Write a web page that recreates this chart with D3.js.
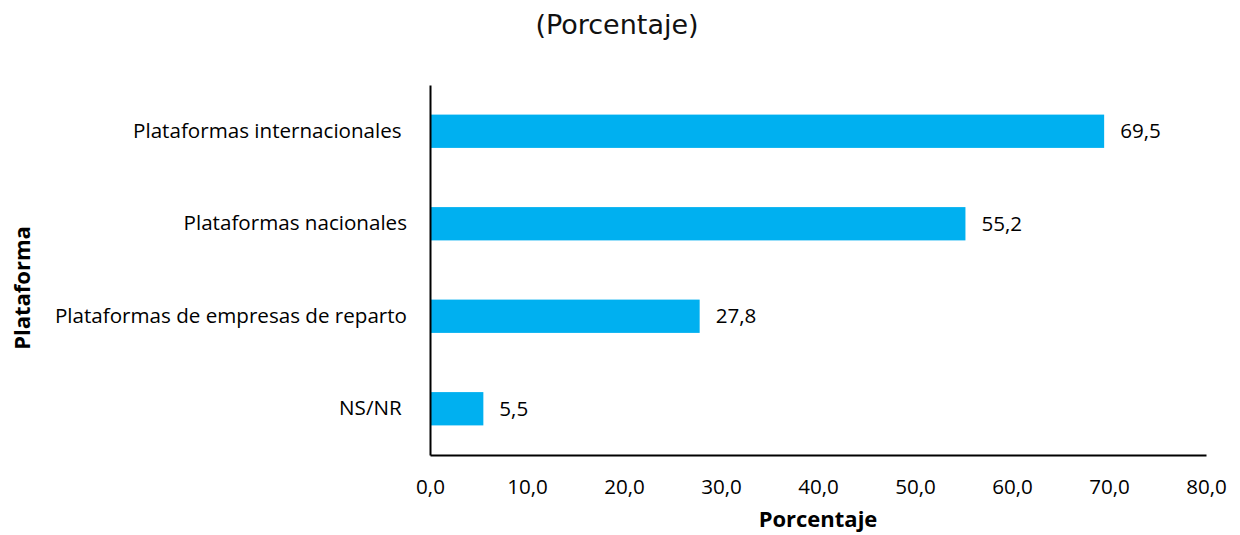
<!DOCTYPE html>
<html>
<head>
<meta charset="utf-8">
<script src="https://cdn.jsdelivr.net/npm/d3@7"></script>
<style>
  body { margin: 0; background: #fff; }
  svg { display: block; }
  .cat { white-space: pre; }
</style>
</head>
<body>
<div id="chart"></div>
<script>
// Chart data
const categories = ['Plataformas internacionales ', 'Plataformas nacionales', 'Plataformas de empresas de reparto', 'NS/NR '];
const values = [69.5, 55.2, 27.8, 5.5];
const xTicks = [0, 10, 20, 30, 40, 50, 60, 70, 80];

const width = 1240, height = 535;
const margin = { top: 85, right: 34, bottom: 80, left: 430 };
const labelFont = '"Open Sans", Lato, sans-serif';
const labelSize = '20.6px';

const svg = d3.select('#chart')
    .append('svg')
    .attr('width', width)
    .attr('height', height);

const x = d3.scaleLinear()
    .domain([0, 80])
    .range([margin.left, width - margin.right]);

const y = d3.scaleBand()
    .domain(categories)
    .range([margin.top, height - margin.bottom])
    .paddingInner(0.64)
    .paddingOuter(0.32);

const fmt = v => d3.format('.1f')(v).replace('.', ',');

// Title
svg.append('text')
    .attr('x', 617)
    .attr('y', 34)
    .attr('text-anchor', 'middle')
    .style('font-family', '"DejaVu Sans", Verdana, sans-serif')
    .style('font-size', '27px')
    .attr('fill', '#111')
    .text('(Porcentaje)');

// Bars
svg.append('g')
    .selectAll('rect')
    .data(values)
    .enter().append('rect')
    .attr('x', x(0))
    .attr('y', (d, i) => y(categories[i]))
    .attr('width', d => x(d) - x(0))
    .attr('height', y.bandwidth())
    .attr('fill', '#00B0F0');

// Value labels
svg.append('g')
    .selectAll('text')
    .data(values)
    .enter().append('text')
    .attr('x', d => x(d) + 16)
    .attr('y', (d, i) => y(categories[i]) + y.bandwidth() / 2)
    .attr('dy', '0.35em')
    .style('font-family', labelFont)
    .style('font-size', labelSize)
    .attr('fill', '#000')
    .text(d => fmt(d));

// X axis
const xAxis = d3.axisBottom(x)
    .tickValues(xTicks)
    .tickSize(0)
    .tickPadding(24)
    .tickFormat(fmt);

const gx = svg.append('g')
    .attr('transform', `translate(0,${height - margin.bottom})`)
    .call(xAxis);
gx.select('.domain').attr('stroke', '#000').attr('stroke-width', 2);
gx.selectAll('text')
    .style('font-family', labelFont)
    .style('font-size', labelSize)
    .attr('fill', '#000');

// Y axis
const yAxis = d3.axisLeft(y)
    .tickSize(0)
    .tickPadding(23);

const gy = svg.append('g')
    .attr('transform', `translate(${margin.left},0)`)
    .call(yAxis);
gy.select('.domain').attr('stroke', '#000').attr('stroke-width', 2);
gy.selectAll('text')
    .attr('class', 'cat')
    .style('font-family', labelFont)
    .style('font-size', labelSize)
    .attr('fill', '#000');

// Axis titles
svg.append('text')
    .attr('x', (x(0) + x(80)) / 2)
    .attr('y', 527)
    .attr('text-anchor', 'middle')
    .style('font-family', labelFont)
    .style('font-size', '22px')
    .style('font-weight', 'bold')
    .text('Porcentaje');

svg.append('text')
    .attr('transform', 'translate(30,288) rotate(-90)')
    .attr('text-anchor', 'middle')
    .style('font-family', labelFont)
    .style('font-size', '22px')
    .style('font-weight', 'bold')
    .text('Plataforma');
</script>
</body>
</html>
